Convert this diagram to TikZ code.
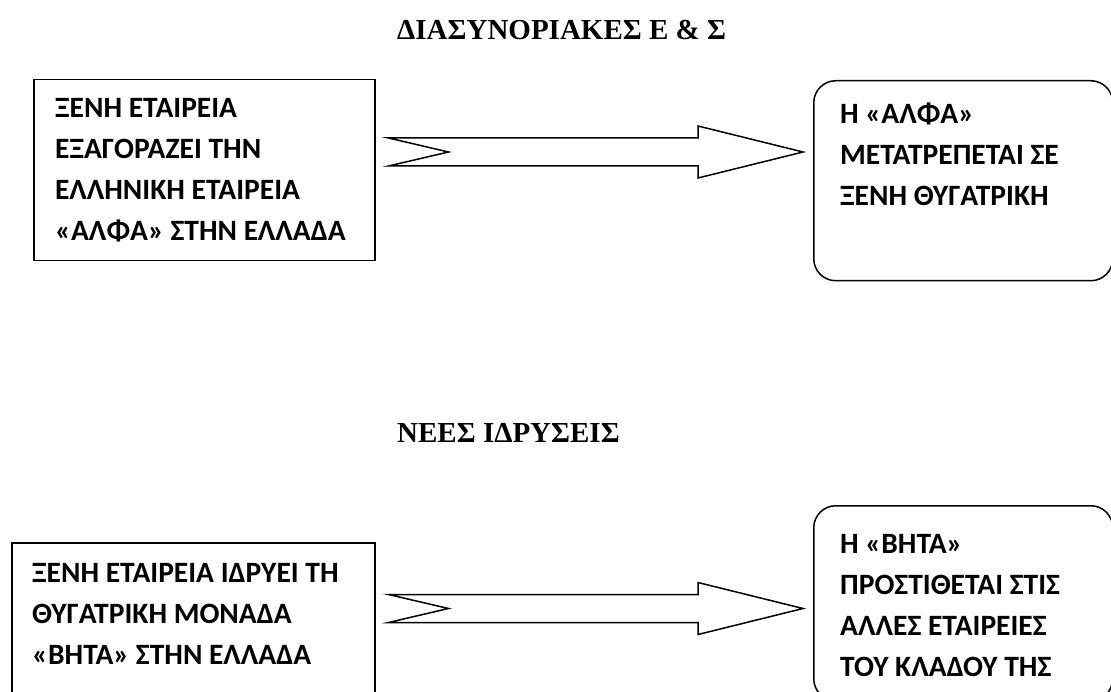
\documentclass[tikz,border=0pt]{standalone}
\usepackage{fontspec}
\setmainfont{Carlito}
\newfontfamily\titlefont{Liberation Serif}
\usetikzlibrary{calc}
\begin{document}
\begin{tikzpicture}[x=1pt,y=-1pt,
  boxline/.style={draw=black, line width=1.5pt},
  plainbox/.style={boxline, rectangle, inner sep=0pt, anchor=north west},
  roundbox/.style={plainbox, rounded corners=22pt},
  % multi-line text is placed by the baseline of its last line
  boxtext/.style={anchor=base west, inner sep=0pt, align=left,
    font=\bfseries\fontsize{29.5}{41}\selectfont},
  heading/.style={anchor=base west, inner sep=0pt,
    font=\titlefont\bfseries\fontsize{29}{32}\selectfont},
  blockarrow/.style={boxline, line join=miter, fill=white}]
\useasboundingbox (0,0) rectangle (1111,692);
\clip (0,0) rectangle (1111,692);

% cross-border mergers and acquisitions
\node[heading] (h1) at (397,40) {ΔΙΑΣΥΝΟΡΙΑΚΕΣ Ε \& Σ};
\node[plainbox, minimum width=341, minimum height=181] (b1) at (33,79) {};
\node[boxtext] (t1) at (55,241) {ΞΕΝΗ ΕΤΑΙΡΕΙΑ\\ΕΞΑΓΟΡΑΖΕΙ ΤΗΝ\\ΕΛΛΗΝΙΚΗ ΕΤΑΙΡΕΙΑ\\«ΑΛΦΑ» ΣΤΗΝ ΕΛΛΑΔΑ};
\node[roundbox, minimum width=299, minimum height=200] (b2) at (813,80) {};
\node[boxtext] (t2) at (840,206) {Η «ΑΛΦΑ»\\ΜΕΤΑΤΡΕΠΕΤΑΙ ΣΕ\\ΞΕΝΗ ΘΥΓΑΤΡΙΚΗ};
\coordinate (a1tail) at ($(b1.north east)+(13,73)$);
\coordinate (a1tip) at ($(b2.north west)+(-10,72)$);
\draw[blockarrow] let \p1=(a1tail), \p2=(a1tip) in
  (\x1,\y1+14pt) -- (\x2-105pt,\y1+14pt) -- (\x2-105pt,\y1+26pt) -- (\x2,\y1)
  -- (\x2-105pt,\y1-26pt) -- (\x2-105pt,\y1-14pt) -- (\x1,\y1-14pt)
  -- (\x1+60pt,\y1) -- cycle;

% new establishments
\node[heading] (h2) at (397,442) {ΝΕΕΣ ΙΔΡΥΣΕΙΣ};
\node[plainbox, minimum width=363, minimum height=200] (b3) at (11,542) {};
\node[boxtext] (t3) at (32,664) {ΞΕΝΗ ΕΤΑΙΡΕΙΑ ΙΔΡΥΕΙ ΤΗ\\ΘΥΓΑΤΡΙΚΗ ΜΟΝΑΔΑ\\«ΒΗΤΑ» ΣΤΗΝ ΕΛΛΑΔΑ};
\node[roundbox, minimum width=299, minimum height=195] (b4) at (813,505) {};
\node[boxtext] (t4) at (840,676) {Η «ΒΗΤΑ»\\ΠΡΟΣΤΙΘΕΤΑΙ ΣΤΙΣ\\ΑΛΛΕΣ ΕΤΑΙΡΕΙΕΣ\\ΤΟΥ ΚΛΑΔΟΥ ΤΗΣ};
\coordinate (a2tail) at ($(b3.north east)+(13,66.5)$);
\coordinate (a2tip) at ($(b4.north west)+(-10,103.5)$);
\draw[blockarrow] let \p1=(a2tail), \p2=(a2tip) in
  (\x1,\y1+14pt) -- (\x2-105pt,\y1+14pt) -- (\x2-105pt,\y1+26pt) -- (\x2,\y1)
  -- (\x2-105pt,\y1-26pt) -- (\x2-105pt,\y1-14pt) -- (\x1,\y1-14pt)
  -- (\x1+60pt,\y1) -- cycle;
\end{tikzpicture}
\end{document}
